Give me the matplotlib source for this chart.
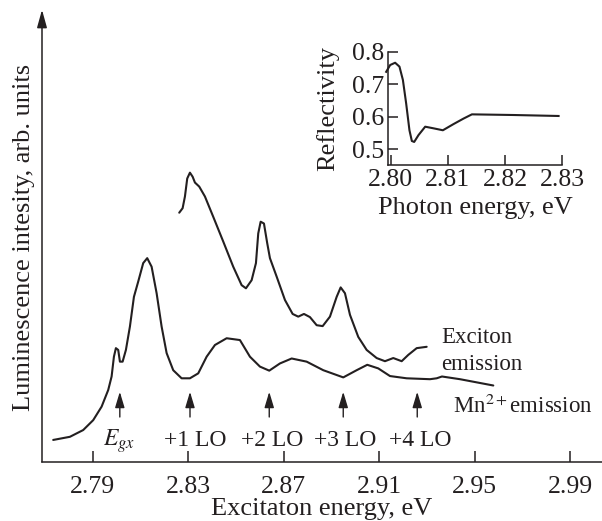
import matplotlib
matplotlib.use("Agg")
import matplotlib.pyplot as plt

plt.rcParams['font.family'] = ['Liberation Serif', 'DejaVu Serif']
plt.rcParams['mathtext.fontset'] = 'stix'

# Mn2+ emission (lower curve) : excitation energy (eV), intensity (arb. units)
mn_E = [2.77349, 2.78049, 2.78606, 2.79025, 2.79377, 2.79654, 2.79796, 2.79893,
        2.79976, 2.80073, 2.80144, 2.80257, 2.80395, 2.80563, 2.80731, 2.80911,
        2.81120, 2.81288, 2.81472, 2.81682, 2.81891, 2.82101, 2.82377, 2.82729,
        2.83077, 2.83425, 2.83777, 2.84125, 2.84615, 2.85172, 2.85591, 2.86010,
        2.86400, 2.86848, 2.87339, 2.87967, 2.88663, 2.89501, 2.90062, 2.90506,
        2.90967, 2.91458, 2.92157, 2.93134, 2.93414, 2.93636, 2.94391, 2.95786]
mn_I = [4.9, 5.6, 7.1, 9.3, 12.3, 16.0, 19.0, 23.4,
        25.3, 24.9, 22.3, 22.3, 24.9, 30.1, 36.7, 40.1,
        44.2, 45.3, 43.4, 37.5, 30.1, 24.2, 20.4, 18.6,
        18.6, 19.7, 23.4, 26.0, 27.5, 27.1, 23.4, 21.2,
        20.3, 21.9, 23.0, 22.3, 20.4, 18.8, 20.4, 21.6,
        20.8, 19.1, 18.6, 18.4, 18.6, 19.0, 18.4, 17.0]

# Exciton emission (upper curve)
ex_E = [2.82629, 2.82771, 2.82868, 2.82964, 2.83077, 2.83190, 2.83287, 2.83467,
        2.83706, 2.84053, 2.84472, 2.84891, 2.85243, 2.85424, 2.85662, 2.85843,
        2.85939, 2.86040, 2.86178, 2.86316, 2.86429, 2.86710, 2.87058, 2.87380,
        2.87615, 2.87854, 2.88105, 2.88386, 2.88638, 2.88943, 2.89224, 2.89392,
        2.89572, 2.89782, 2.90129, 2.90481, 2.90900, 2.91248, 2.91596, 2.91948,
        2.92224, 2.92576, 2.92995]
ex_I = [55.4, 56.4, 59.0, 63.0, 64.3, 63.4, 62.1, 61.2,
        59.0, 54.5, 49.0, 43.4, 39.3, 38.6, 40.4, 44.2,
        50.8, 53.4, 53.0, 48.6, 45.3, 41.2, 36.0, 32.9,
        32.3, 32.9, 32.2, 30.4, 30.2, 32.3, 36.7, 38.8,
        37.5, 32.7, 27.8, 24.9, 23.1, 22.4, 23.1, 22.4,
        23.8, 25.3, 25.6]

# Reflectivity inset
r_E = [2.79918, 2.79988, 2.80075, 2.80151, 2.80211, 2.80268, 2.80326, 2.80368,
       2.80409, 2.80484, 2.80602, 2.80747, 2.80912, 2.81098, 2.81274, 2.81421,
       2.82151, 2.82940]
r_R = [0.738, 0.759, 0.766, 0.754, 0.713, 0.641, 0.558, 0.525,
       0.522, 0.543, 0.569, 0.564, 0.558, 0.577, 0.594, 0.607,
       0.605, 0.602]

# Marked energies (arrows) and their labels
arrow_E = [2.8014, 2.8308, 2.8640, 2.8950, 2.9260]
arrow_labels = [r'$E_{gx}$', '+1 LO', '+2 LO', '+3 LO', '+4 LO']
label_E = [2.8010, 2.8329, 2.8651, 2.8957, 2.9271]

main_ticks = [2.79, 2.83, 2.87, 2.91, 2.95, 2.99]
inset_xticks = [2.80, 2.81, 2.82, 2.83]
inset_yticks = [0.5, 0.6, 0.7, 0.8]

K = '#231f20'
fig = plt.figure(figsize=(6.02, 5.21), dpi=100)
ax = fig.add_axes([42/602, 59/521, 560/602, 450/521])
ax.set_xlim(2.7688, 3.0034)
ax.set_ylim(0, 100)
for s in ['top', 'right', 'left']:
    ax.spines[s].set_visible(False)
ax.spines['bottom'].set_linewidth(1.1)
ax.spines['bottom'].set_color(K)
ax.annotate('', xy=(0, 1.005), xytext=(0, 0), xycoords='axes fraction',
            arrowprops=dict(arrowstyle='-|>,head_length=0.9,head_width=0.25',
                            mutation_scale=12, lw=1.1, color=K,
                            shrinkA=0, shrinkB=0))
ax.set_yticks([])
ax.set_xticks(main_ticks)
ax.set_xticklabels([f'{t:.2f}' for t in main_ticks])
ax.tick_params(axis='x', direction='in', length=8, width=1.1, color=K,
               labelsize=18.5, pad=10, labelcolor=K)

ax.plot(mn_E, mn_I, color=K, lw=1.5, solid_joinstyle='round', solid_capstyle='round')
ax.plot(ex_E, ex_I, color=K, lw=1.5, solid_joinstyle='round', solid_capstyle='round')

for e in arrow_E:
    ax.annotate('', xy=(e, 15.6), xytext=(e, 10.0),
                arrowprops=dict(arrowstyle='-|>,head_length=0.8,head_width=0.24',
                                mutation_scale=12, lw=1.0, color=K,
                                shrinkA=0, shrinkB=0))
for e, lab in zip(label_E, arrow_labels):
    ax.text(e, 3.6, lab, ha='center', va='baseline', fontsize=17, color=K)

ax.text(2.9362, 26.4, 'Exciton', ha='left', va='baseline', fontsize=16.5, color=K)
ax.text(2.9362, 20.4, 'emission', ha='left', va='baseline', fontsize=16.5, color=K)
ax.text(2.9408, 10.9, r'Mn$^{2+}$emission', ha='left', va='baseline', fontsize=16.5, color=K)

ax.set_xlabel('Excitaton energy, eV', fontsize=19, color=K, labelpad=0)
ax.set_ylabel('Luminescence intesity, arb. units', fontsize=19, color=K, labelpad=5)

# inset
ins = fig.add_axes([388/602, (521-165)/521, 174/602, 113.3/521])
ins.set_xlim(2.7995, 2.83)
ins.set_ylim(0.451, 0.8)
for s in ['top', 'right']:
    ins.spines[s].set_visible(False)
for s in ['left', 'bottom']:
    ins.spines[s].set_linewidth(1.1)
    ins.spines[s].set_color(K)
ins.plot(r_E, r_R, color=K, lw=1.5, clip_on=False, solid_joinstyle='round')
ins.set_xticks(inset_xticks)
ins.set_xticklabels([f'{t:.2f}' for t in inset_xticks])
ins.set_yticks(inset_yticks)
ins.set_yticklabels([f'{t:.1f}' for t in inset_yticks])
ins.tick_params(direction='in', length=7, width=1.1, color=K, labelsize=18.5,
                labelcolor=K, pad=3)
ins.set_xlabel('Photon energy, eV', fontsize=19, color=K, labelpad=4)
ins.set_ylabel('Reflectivity', fontsize=19, color=K, labelpad=9)

fig.savefig('out.png', dpi=100)
